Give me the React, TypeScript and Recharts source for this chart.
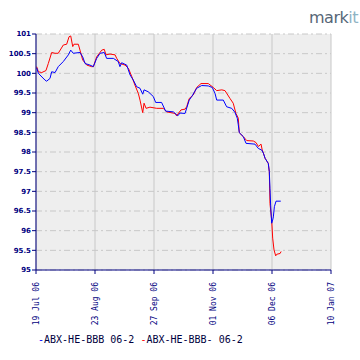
import { LineChart, Line, XAxis, YAxis, CartesianGrid } from 'recharts';

// days counted from 19 Jul 06
const dateTicks = [0, 35, 70, 105, 140, 175];
const dateLabels = ['19 Jul 06', '23 Aug 06', '27 Sep 06', '01 Nov 06', '06 Dec 06', '10 Jan 07'];
const priceTicks = [95, 95.5, 96, 96.5, 97, 97.5, 98, 98.5, 99, 99.5, 100, 100.5, 101];

const blueDays = [
  0.4, 1.4, 5.3, 6.3, 8.3, 9.3, 11.3, 13.2, 16.2, 19.2, 20.6, 22.1, 26.1, 27.7, 29.1, 32, 34, 36, 38, 40.5,
  41.9, 45.9, 48.8, 49.8, 50.8, 53.8, 55.8, 57.7, 59.7, 61.7, 63.3, 64.1, 66.6, 69.6, 71, 74.5, 76.9, 81.5,
  84.1, 85.4, 88.4, 90.9, 92.4, 95.3, 98.3, 102.2, 104.6, 106.2, 107.2, 111.1, 113.1, 116.1, 118, 119.4, 120,
  120.6, 123, 124.6, 129.9, 131.9, 133.9, 134.9, 135.9, 137.8, 138.4, 138.8, 139.2, 139.8, 140.4, 140.8,
  141.4, 142.4, 145.2,
];
const blueValues = [
  100.14, 100.0, 99.83, 99.8, 99.87, 100.04, 100.02, 100.17, 100.3, 100.47, 100.59, 100.51, 100.53, 100.42,
  100.25, 100.21, 100.17, 100.38, 100.51, 100.53, 100.38, 100.38, 100.3, 100.17, 100.27, 100.21, 99.96, 99.83,
  99.66, 99.62, 99.47, 99.58, 99.53, 99.41, 99.26, 99.26, 99.04, 99.02, 98.92, 98.99, 98.98, 99.32, 99.41,
  99.62, 99.69, 99.68, 99.64, 99.49, 99.32, 99.32, 99.15, 99.11, 99.01, 98.86, 98.69, 98.49, 98.39, 98.22,
  98.2, 98.09, 98.05, 97.97, 97.84, 97.71, 97.5, 97.08, 96.65, 96.19, 96.27, 96.35, 96.61, 96.75, 96.75,
];

const redDays = [
  0.4, 1.4, 3.4, 5.9, 7.3, 9.3, 11.3, 13.2, 16.2, 18.2, 19.6, 20.6, 21.8, 22.5, 25.1, 26.1, 27.7, 30.1, 33,
  34, 36, 39, 40.5, 41.5, 43.9, 46.9, 47.9, 49.8, 52.8, 54.8, 56.8, 58.7, 60.7, 61.7, 63.3, 64.1, 65.3, 67.6,
  71.6, 75.5, 77.5, 82.5, 83.4, 86, 88.4, 89.4, 90.9, 93.3, 95.3, 97.9, 102.2, 105.2, 107.2, 110.2, 112.1,
  115.1, 117, 118.6, 120, 120.6, 123, 125, 128.9, 130.5, 131.9, 133.5, 134.2, 134.9, 135.9, 137.8, 138.4,
  138.8, 139.8, 140.4, 141.2, 142.2, 142.8, 144.8, 145.4,
];
const redValues = [
  100.17, 100.04, 100.02, 100.07, 100.25, 100.53, 100.51, 100.51, 100.72, 100.74, 100.93, 100.95, 100.68,
  100.74, 100.74, 100.59, 100.34, 100.21, 100.17, 100.17, 100.42, 100.59, 100.61, 100.47, 100.49, 100.47,
  100.38, 100.25, 100.21, 100.13, 99.92, 99.7, 99.49, 99.32, 99.0, 99.24, 99.11, 99.14, 99.11, 99.11, 99.02,
  98.98, 98.92, 99.07, 99.09, 99.15, 99.36, 99.45, 99.64, 99.74, 99.74, 99.64, 99.56, 99.58, 99.56, 99.36,
  99.24, 98.98, 98.86, 98.49, 98.39, 98.29, 98.28, 98.24, 98.14, 98.2, 98.05, 97.97, 97.84, 97.71, 97.5,
  96.69, 96.27, 95.81, 95.51, 95.36, 95.4, 95.42, 95.47,
];

const blueData = blueDays.map((d, i) => ({ day: d, value: blueValues[i] }));
const redData = redDays.map((d, i) => ({ day: d, value: redValues[i] }));

const NAVY = '#000080';

function DateTick(props: any) {
  const { x, y, payload } = props;
  const idx = dateTicks.indexOf(payload.value);
  const tx = x + 3;
  const ty = y + 6;
  return (
    <text
      x={tx}
      y={ty}
      transform={`rotate(-90, ${tx}, ${ty})`}
      textAnchor="end"
      fill={NAVY}
      fontSize={8}
      fontFamily="DejaVu Sans Mono"
    >
      {dateLabels[idx]}
    </text>
  );
}

export default function App() {
  return (
    <div style={{ position: 'absolute', left: 0, top: 0, width: 360, height: 360, background: '#fff' }}>
      <div
        style={{
          position: 'absolute',
          left: 309,
          top: 8,
          fontFamily: 'DejaVu Sans',
          fontSize: 16,
          color: '#566676',
          letterSpacing: -0.5,
        }}
      >
        mark<span style={{ color: '#8fb3c4' }}>it</span>
      </div>
      <LineChart width={360} height={360} margin={{ top: 34, right: 29, bottom: 0, left: 0 }}>
        <CartesianGrid horizontal={false} stroke="#c8c8c8" fill="#eeeeee" />
        <CartesianGrid vertical={false} stroke="#c8c8c8" strokeDasharray="6 3 2 3" />
        <XAxis
          type="number"
          dataKey="day"
          domain={[0, 175]}
          ticks={dateTicks}
          height={90}
          stroke={NAVY}
          tickSize={4}
          tick={<DateTick />}
          interval={0}
        />
        <YAxis
          type="number"
          domain={[95, 101]}
          ticks={priceTicks}
          width={36}
          stroke={NAVY}
          tickSize={4}
          tickMargin={1}
          interval={0}
          tick={{ fill: NAVY, fontSize: 7, fontWeight: 'bold', fontFamily: 'DejaVu Sans' }}
        />
        <Line
          data={redData}
          dataKey="value"
          stroke="#ff0000"
          strokeWidth={1}
          dot={false}
          isAnimationActive={false}
        />
        <Line
          data={blueData}
          dataKey="value"
          stroke="#0000ff"
          strokeWidth={1}
          dot={false}
          isAnimationActive={false}
        />
      </LineChart>
      <div
        style={{
          position: 'absolute',
          left: 38,
          top: 334,
          fontFamily: 'DejaVu Sans Mono',
          fontSize: 10,
          color: '#000040',
          whiteSpace: 'nowrap',
        }}
      >
        <span style={{ color: '#0000ff' }}>-</span>ABX-HE-BBB 06-2{' '}
        <span style={{ color: '#ff0000' }}>-</span>ABX-HE-BBB- 06-2
      </div>
    </div>
  );
}
